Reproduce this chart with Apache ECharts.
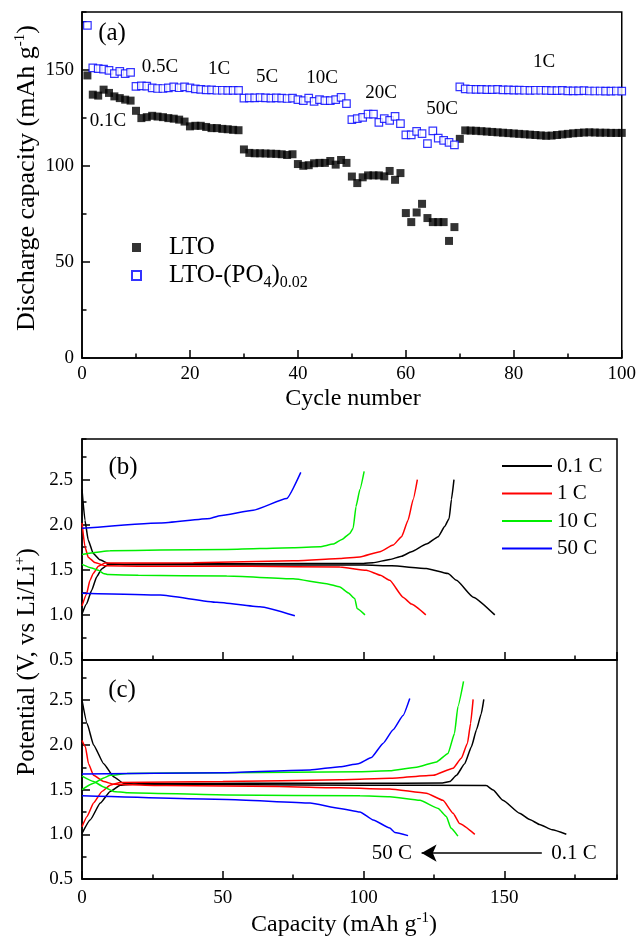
<!DOCTYPE html>
<html>
<head>
<meta charset="utf-8">
<script src="https://cdn.jsdelivr.net/npm/echarts@6/dist/echarts.min.js"></script>
<style>
html, body { margin: 0; padding: 0; background: #fff; }
#chart { width: 639px; height: 941px; }
</style>
</head>
<body>
<div id="chart"></div>
<script>
// ---- (a) rate capability: discharge capacity per cycle (mAh/g) ----
const cycleNumbers = Array.from({ length: 100 }, (_, i) => i + 1);
const capLTO = [
  147, 137, 136.5, 139.6, 137.9, 136.1, 135.2, 134.4, 133.9,
  128.6, 124.8, 125.3, 126, 125.6, 125.3, 124.8, 124.5, 124, 123,
  120.5, 120.8, 120.8, 120.2, 119.6, 119.6, 119.2, 119, 118.7, 118.5,
  108.5, 106.7, 106.5, 106.5, 106.4, 106.3, 106.2, 106, 105.6, 106,
  100.9, 100, 100.3, 101.3, 101.5, 101.5, 102.5, 100.6, 103, 101.5,
  94.4, 91, 94, 95, 95, 95, 94.5, 97.3, 92.7, 96.2,
  75.4, 70.7, 75.7, 80.2, 72.8, 70.7, 70.7, 70.7, 60.9, 68.1,
  114, 118.4, 118.3, 118.2, 118, 117.8, 117.6, 117.4, 117.2, 117,
  116.8, 116.6, 116.4, 116.2, 116, 115.8, 115.6, 115.7, 116, 116.3,
  116.6, 116.9, 117.1, 117.3, 117.4, 117.3, 117.2, 117.2, 117.1, 117.1, 117.1
];
const capLTOPO4 = [
  173, 150.9, 150.5, 150.3, 149.6, 147.9, 149.1, 147.9, 148.6,
  141.3, 141.6, 141.4, 140.5, 140.2, 140.2, 140.5, 141, 140.6, 141,
  140.5, 140, 139.7, 139.5, 139.5, 139.3, 139.3, 139.2, 139.2, 139.2,
  135.2, 135.3, 135.3, 135.5, 135.3, 135.2, 135.3, 135.2, 135, 135.2,
  134.4, 133.9, 135.2, 133.5, 134.4, 133.9, 133.9, 134.4, 135.6, 132.3,
  124, 124.5, 125.2, 126.9, 126.9, 122.6, 124.5, 123.6, 125.7, 121.9,
  116.1, 116.1, 117.9, 116.7, 111.5, 118.2, 114.4, 113.2, 112.2, 110.9,
  141, 140, 139.8, 139.7, 139.7, 139.6, 139.6, 139.7, 139.5, 139.5,
  139.4, 139.4, 139.3, 139.2, 139.3, 139.3, 139.2, 139.1, 139.1, 139.2,
  139, 139, 139, 139.1, 138.9, 138.9, 138.9, 138.8, 138.8, 138.9, 138.8
];
const rateLabelsA = ['0.1C', '0.5C', '1C', '5C', '10C', '20C', '50C', '1C'];

// ---- (b) LTO: [capacity mAh/g, potential V] ----
const bDis01 = [[0,2.39],[1.05,2.05],[2.2,1.83],[4.0,1.68],[6.4,1.61],[9.3,1.57],[15,1.556],[40,1.555],[80,1.553],[100,1.552],[110,1.545],[122.3,1.514],[130,1.458],[133,1.383],[138.9,1.197],[146.6,1.0]];
const bChg01 = [[0,1.01],[1.6,1.12],[3.4,1.27],[5.2,1.42],[7,1.51],[9.3,1.56],[20,1.565],[60,1.567],[100,1.57],[103.3,1.578],[109.3,1.614],[113.5,1.65],[117,1.70],[122.3,1.785],[126.5,1.867],[128.8,1.98],[130.4,2.07],[131.2,2.28],[132.1,2.5]];
const bDis1 = [[0,2.02],[1.05,1.755],[2.2,1.64],[4.6,1.58],[8.2,1.545],[20,1.54],[60,1.538],[91.6,1.53],[101,1.495],[106,1.44],[109.3,1.383],[114,1.197],[117,1.12],[122.1,1.0]];
const bChg1 = [[0,1.10],[1.6,1.23],[2.8,1.38],[4,1.46],[5.8,1.54],[8.2,1.575],[39.6,1.577],[75,1.60],[91.6,1.625],[98.7,1.643],[105.8,1.70],[110.5,1.774],[113.5,1.867],[115.8,2.05],[117.6,2.28],[119.1,2.5]];
const bDis10 = [[0,1.56],[3.4,1.52],[5.8,1.495],[7.6,1.46],[9.3,1.447],[20,1.44],[51.4,1.43],[75,1.40],[86.9,1.346],[91.6,1.31],[94.5,1.245],[96.9,1.18],[97.7,1.07],[100.5,1.0]];
const bChg10 = [[0,1.67],[10,1.71],[27.8,1.72],[51.4,1.726],[75,1.745],[84.5,1.755],[89.2,1.785],[92.5,1.84],[95,1.90],[96.3,1.96],[97.3,2.2],[98.7,2.39],[100.2,2.59]];
const bDis50 = [[0,1.24],[27.8,1.22],[47.9,1.14],[63.2,1.09],[75.6,0.99]];
const bChg50 = [[0,1.96],[27.8,2.02],[45.5,2.07],[49,2.10],[60.8,2.16],[72.7,2.29],[77.7,2.58]];

// ---- (c) LTO-(PO4)0.02: [capacity mAh/g, potential V] ----
const cDis01 = [[0,2.50],[1.8,2.24],[4.1,2.0],[7.7,1.79],[11.2,1.645],[14.8,1.57],[20,1.56],[60,1.555],[100,1.55],[143.6,1.545],[146,1.495],[149.5,1.38],[155.4,1.235],[159,1.165],[162.5,1.11],[167,1.05],[172,1.0]];
const cChg01 = [[0,1.01],[2.9,1.16],[6.5,1.35],[10,1.48],[13.6,1.55],[20,1.565],[60,1.57],[100,1.57],[128,1.575],[130.6,1.59],[133,1.66],[135.9,1.79],[138.3,1.98],[140.1,2.17],[141.8,2.35],[142.7,2.51]];
const cDis1 = [[0,2.05],[1.2,1.98],[2.3,1.79],[4.1,1.66],[7.7,1.59],[11.2,1.56],[30,1.545],[70,1.535],[91.6,1.52],[109.3,1.507],[122.3,1.46],[128.2,1.38],[131.8,1.235],[134.1,1.12],[139.5,1.0]];
const cChg1 = [[0,1.085],[1.8,1.2],[4.1,1.35],[7.1,1.48],[10,1.55],[13.6,1.58],[50,1.59],[91.6,1.61],[109.3,1.626],[124.7,1.66],[131.8,1.74],[134.7,1.85],[136.9,2.02],[138,2.24],[138.9,2.51]];
const cDis10 = [[0,1.65],[4.1,1.59],[7.7,1.53],[11.2,1.48],[16,1.465],[51.4,1.44],[98.7,1.43],[109.3,1.42],[120,1.38],[126.5,1.29],[129.4,1.20],[131,1.07],[133.5,0.98]];
const cChg10 = [[0,1.50],[4.1,1.57],[7.7,1.63],[10,1.66],[16,1.68],[51.4,1.69],[98.7,1.70],[109.3,1.71],[118.8,1.75],[125.9,1.81],[130,1.905],[132.3,2.13],[133.5,2.43],[135.5,2.71]];
const cDis50 = [[0,1.43],[51.4,1.39],[81,1.35],[91.6,1.29],[98.7,1.25],[103.4,1.16],[109.3,1.07],[111.1,1.02],[115.8,0.985]];
const cChg50 = [[0,1.675],[51.4,1.69],[81,1.72],[91.6,1.756],[98.1,1.79],[102.8,1.86],[107,2.02],[110.5,2.17],[114,2.33],[116.4,2.52]];

const rateNames = ['0.1 C', '1 C', '10 C', '50 C'];
const rateColors = ['#000000', '#ff0000', '#00ee00', '#0000ff'];

// ---------------------------------------------------------------------
const SERIF = '"Liberation Serif", "Times New Roman", serif';
const chart = echarts.init(document.getElementById('chart'), null, { renderer: 'canvas' });

const G_A = { left: 82, top: 12, width: 544, height: 346 };
const G_B = { left: 82, top: 439, width: 535, height: 221 };
const G_C = { left: 82, top: 660, width: 535, height: 219 };

function grid(g) {
  return Object.assign({ show: true, borderColor: '#000', borderWidth: 1.5, backgroundColor: 'transparent' }, g);
}
function mainAxis(gi, min, max, interval, showLabels, margin, fmt, showMax) {
  return {
    type: 'value', gridIndex: gi, min, max, interval,
    axisLine: { show: true, onZero: false, lineStyle: { color: '#000', width: 1.5 } },
    axisTick: { show: true, inside: true, length: 8, lineStyle: { color: '#000', width: 1.5 } },
    axisLabel: { show: showLabels, showMaxLabel: !!showMax, margin, color: '#000', fontFamily: SERIF, fontSize: 19, formatter: fmt },
    splitLine: { show: false }
  };
}
function minorAxis(gi, min, max, interval) {
  return {
    type: 'value', gridIndex: gi, min, max, interval,
    axisLine: { show: false, onZero: false },
    axisTick: { show: true, inside: true, length: 4.5, lineStyle: { color: '#000', width: 1.5 } },
    axisLabel: { show: false },
    splitLine: { show: false }
  };
}
const vFmt = v => v.toFixed(1);

const xAxes = [
  Object.assign(mainAxis(0, 0, 100, 20, true, 7, undefined, true), { position: 'bottom' }),
  Object.assign(minorAxis(0, 0, 100, 10), { position: 'bottom' }),
  Object.assign(mainAxis(1, 0, 190, 50, false, 8), { position: 'bottom' }),
  Object.assign(minorAxis(1, 0, 190, 25), { position: 'bottom' }),
  Object.assign(mainAxis(2, 0, 190, 50, true, 10), { position: 'bottom' }),
  Object.assign(minorAxis(2, 0, 190, 25), { position: 'bottom' })
];
const yAxes = [
  Object.assign(mainAxis(0, 0, 180, 50, true, 8), { position: 'left' }),
  Object.assign(minorAxis(0, 0, 180, 25), { position: 'left' }),
  Object.assign(mainAxis(1, 0.5, 2.95, 0.5, true, 9, vFmt), { position: 'left' }),
  Object.assign(minorAxis(1, 0.5, 2.95, 0.25), { position: 'left' }),
  Object.assign(mainAxis(2, 0.5, 2.95, 0.5, true, 9, vFmt), { position: 'left' }),
  Object.assign(minorAxis(2, 0.5, 2.95, 0.25), { position: 'left' })
];

const series = [
  {
    name: 'LTO', type: 'scatter', xAxisIndex: 0, yAxisIndex: 0,
    symbol: 'rect', symbolSize: 8,
    itemStyle: { color: '#000' },
    data: cycleNumbers.map((c, i) => [c, capLTO[i]])
  },
  {
    name: 'LTO-(PO4)0.02', type: 'scatter', xAxisIndex: 0, yAxisIndex: 0,
    symbol: 'rect', symbolSize: 7.5,
    itemStyle: { color: '#ffffff', borderColor: '#0000ff', borderWidth: 1.2 },
    data: cycleNumbers.map((c, i) => [c, capLTOPO4[i]])
  }
];

function curve(name, color, axisIdx, pts) {
  return {
    name, type: 'line', xAxisIndex: axisIdx, yAxisIndex: axisIdx,
    showSymbol: false, symbol: 'none',
    smooth: 0.15, smoothMonotone: 'x',
    lineStyle: { color, width: 1.5 },
    itemStyle: { color },
    emphasis: { disabled: true },
    data: pts
  };
}
const bCurves = [[bDis01, bChg01], [bDis1, bChg1], [bDis10, bChg10], [bDis50, bChg50]];
const cCurves = [[cDis01, cChg01], [cDis1, cChg1], [cDis10, cChg10], [cDis50, cChg50]];
rateNames.forEach((n, k) => {
  series.push(curve(n, rateColors[k], 2, bCurves[k][0]));
  series.push(curve(n, rateColors[k], 2, bCurves[k][1]));
  series.push(curve(n, rateColors[k], 4, cCurves[k][0]));
  series.push(curve(n, rateColors[k], 4, cCurves[k][1]));
});

// arrow from 0.1 C towards 50 C in (c)
series.push({
  type: 'line', xAxisIndex: 4, yAxisIndex: 4, data: [], silent: true,
  markLine: {
    silent: true, symbol: ['none', 'arrow'], symbolSize: [13, 15],
    label: { show: false },
    lineStyle: { color: '#000', width: 1.5, type: 'solid' },
    emphasis: { disabled: true },
    data: [[{ coord: [163.3, 0.79] }, { coord: [120.6, 0.79] }]]
  }
});

const txt = (x, y, text, size) => ({
  type: 'text', x, y, silent: true,
  style: { text, fill: '#000', fontFamily: SERIF, fontSize: size, align: 'center', verticalAlign: 'middle' }
});
const richText = (x, y, text, rot, size) => ({
  type: 'text', x, y, rotation: rot || 0, silent: true,
  style: {
    text, fill: '#000', align: 'center', verticalAlign: 'middle',
    rich: {
      n: { fontFamily: SERIF, fontSize: size || 24, lineHeight: 28, fill: '#000' },
      p: { fontFamily: SERIF, fontSize: 15, lineHeight: 8, verticalAlign: 'top', fill: '#000' }
    }
  }
});

const ratePosA = [[108, 121], [160, 67], [219, 69], [267, 77], [322, 78], [381, 93], [442, 109], [544, 62]];
const graphics = [
  txt(112, 33, '(a)', 25),
  txt(123, 467, '(b)', 25),
  txt(122, 690, '(c)', 25),
  txt(353, 399, 'Cycle number', 24),
  txt(392, 853, '50 C', 21),
  txt(574, 853, '0.1 C', 21),
  richText(344, 925, '{n|Capacity (mAh g}{p|-1}{n|)}'),
  richText(27, 178, '{n|Discharge capacity (mAh g}{p|-1}{n|)}', Math.PI / 2, 26),
  richText(27, 662, '{n|Potential (V, vs Li/Li}{p|+}{n|)}', Math.PI / 2, 25)
];
rateLabelsA.forEach((t, i) => graphics.push(txt(ratePosA[i][0], ratePosA[i][1], t, 19)));

chart.setOption({
  animation: false,
  backgroundColor: '#fff',
  grid: [grid(G_A), grid(G_B), grid(G_C)],
  xAxis: xAxes,
  yAxis: yAxes,
  legend: [
    {
      data: ['LTO', 'LTO-(PO4)0.02'], orient: 'vertical', left: 126, top: 230,
      itemWidth: 9, itemHeight: 9, itemGap: 3, selectedMode: false,
      formatter: name => name === 'LTO'
        ? '{f|LTO}'
        : '{f|LTO-(PO}{s|4}{t|)}{s|0.02}',
      textStyle: {
        color: '#000',
        rich: {
          f: { fontFamily: SERIF, fontSize: 25, lineHeight: 30, padding: [0, 0, 0, 23], color: '#000' },
          t: { fontFamily: SERIF, fontSize: 25, lineHeight: 30, color: '#000' },
          s: { fontFamily: SERIF, fontSize: 16, lineHeight: 4, verticalAlign: 'bottom', color: '#000' }
        }
      }
    },
    {
      data: rateNames, orient: 'vertical', left: 497, top: 449,
      icon: 'rect', itemWidth: 50, itemHeight: 2, itemGap: 3.5, selectedMode: false,
      textStyle: { color: '#000', fontFamily: SERIF, fontSize: 21, lineHeight: 24 }
    }
  ],
  series,
  graphic: graphics
});
</script>
</body>
</html>
